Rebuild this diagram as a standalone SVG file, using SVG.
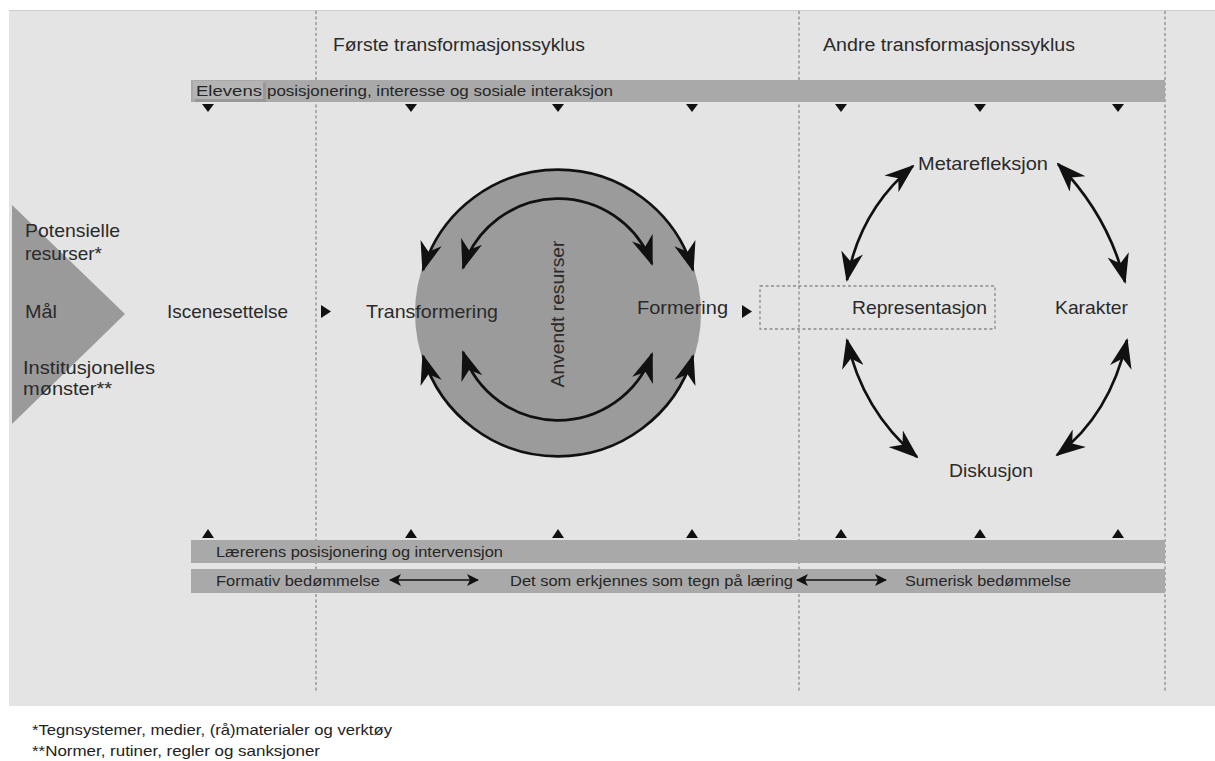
<svg xmlns="http://www.w3.org/2000/svg" width="1215" height="761" viewBox="0 0 1215 761">
  <defs>
    <style>
      text { font-family: "Liberation Sans", Arial, sans-serif; fill: #2a2a2a; }
      .lbl { font-size: 18.5px; }
      .hdr { font-size: 17.5px; }
      .bar { fill: #a9a9a9; }
      .barText { font-size: 14px; fill: #262626; }
      .divider { stroke: #8a8a8a; stroke-width: 1.3; stroke-dasharray: 3 2.5; fill: none; }
      .tick { fill: #111; }
      .cycle { fill: none; stroke: #111; stroke-width: 2.7; }
      .dbl { fill: none; stroke: #111; stroke-width: 1.6; }
      .foot { font-size: 14.5px; fill: #222; }
    </style>
    <marker id="head" viewBox="0 0 30 22" refX="28" refY="11" markerWidth="30" markerHeight="22" markerUnits="userSpaceOnUse" orient="auto-start-reverse">
      <path d="M0,0 L30,11 L0,22 L9,11 z" fill="#111"/>
    </marker>
    <marker id="smallHead" viewBox="0 0 12 12" refX="11" refY="6" markerWidth="12" markerHeight="12" markerUnits="userSpaceOnUse" orient="auto-start-reverse">
      <path d="M0,0 L12,6 L0,12 L3,6 z" fill="#111"/>
    </marker>
  </defs>

  <!-- canvas -->
  <rect x="0" y="0" width="1215" height="761" fill="#ffffff"/>
  <rect x="9" y="10" width="1206" height="696" fill="#e4e4e4"/>
  <line x1="9" y1="10.5" x2="1215" y2="10.5" stroke="#cdcdcd" stroke-width="1"/>

  <!-- phase dividers -->
  <g id="dividers">
    <line class="divider" x1="316" y1="11" x2="316" y2="693"/>
    <line class="divider" x1="799" y1="11" x2="799" y2="693"/>
    <line class="divider" x1="1165" y1="11" x2="1165" y2="693"/>
  </g>

  <!-- phase headings -->
  <g id="headings">
    <text class="hdr" x="333" y="51" textLength="252" lengthAdjust="spacingAndGlyphs">Første transformasjonssyklus</text>
    <text class="hdr" x="823" y="51" textLength="252" lengthAdjust="spacingAndGlyphs">Andre transformasjonssyklus</text>
  </g>

  <!-- student band -->
  <g id="student-band">
    <rect class="bar" x="191" y="80" width="974" height="22"/>
    <rect x="195" y="83" width="71" height="19" fill="#8e8e8e" opacity="0.6"/>
    <rect x="193" y="81" width="70" height="18" fill="#b4b4b4"/>
    <text class="barText" x="196" y="96" fill="#1b2330" textLength="66" lengthAdjust="spacingAndGlyphs">Elevens</text>
    <text class="barText" x="267" y="96" textLength="346" lengthAdjust="spacingAndGlyphs">posisjonering, interesse og sosiale interaksjon</text>
    <path class="tick" d="M202,104 h12 l-6,8 z M405,104 h12 l-6,8 z M552,104 h12 l-6,8 z M686,104 h12 l-6,8 z M835,104 h12 l-6,8 z M974,104 h12 l-6,8 z M1112,104 h12 l-6,8 z"/>
  </g>

  <!-- inputs -->
  <g id="inputs">
    <polygon points="12,205 125,314 12,424" fill="#9a9a9a"/>
    <text class="lbl" x="25" y="237" textLength="95" lengthAdjust="spacingAndGlyphs">Potensielle</text>
    <text class="lbl" x="25" y="260" textLength="77" lengthAdjust="spacingAndGlyphs">resurser*</text>
    <text class="lbl" x="25" y="318" textLength="32" lengthAdjust="spacingAndGlyphs">Mål</text>
    <text class="lbl" x="23" y="374" textLength="132" lengthAdjust="spacingAndGlyphs">Institusjonelles</text>
    <text class="lbl" x="23" y="395" textLength="89" lengthAdjust="spacingAndGlyphs">mønster**</text>
  </g>

  <g id="iscenesettelse">
    <text class="lbl" x="167" y="318" textLength="121" lengthAdjust="spacingAndGlyphs">Iscenesettelse</text>
  </g>

  <!-- first cycle -->
  <g id="anvendt-resurser">
    <circle cx="558" cy="313" r="143" fill="#9b9b9b"/>
    <text class="lbl" transform="translate(564,314) rotate(-90)" text-anchor="middle" textLength="147" lengthAdjust="spacingAndGlyphs">Anvendt resurser</text>
  </g>
  <g id="transformering">
    <text class="lbl" x="366" y="318" textLength="132" lengthAdjust="spacingAndGlyphs">Transformering</text>
  </g>
  <g id="formering">
    <text class="lbl" x="637" y="314" textLength="91" lengthAdjust="spacingAndGlyphs">Formering</text>
  </g>

  <!-- second cycle -->
  <g id="representasjon">
    <rect x="760" y="286" width="235" height="43" fill="none" stroke="#8a8a8a" stroke-width="1.3" stroke-dasharray="3 2.5"/>
    <text class="lbl" x="852" y="314" textLength="135" lengthAdjust="spacingAndGlyphs">Representasjon</text>
  </g>
  <g id="metarefleksjon">
    <text class="lbl" x="918" y="170" textLength="130" lengthAdjust="spacingAndGlyphs">Metarefleksjon</text>
  </g>
  <g id="karakter">
    <text class="lbl" x="1055" y="314" textLength="73" lengthAdjust="spacingAndGlyphs">Karakter</text>
  </g>
  <g id="diskusjon">
    <text class="lbl" x="949" y="477" textLength="84" lengthAdjust="spacingAndGlyphs">Diskusjon</text>
  </g>

  <!-- teacher bands -->
  <g id="teacher-band">
    <path class="tick" d="M202,538 h12 l-6,-9 z M405,538 h12 l-6,-9 z M552,538 h12 l-6,-9 z M686,538 h12 l-6,-9 z M835,538 h12 l-6,-9 z M974,538 h12 l-6,-9 z M1112,538 h12 l-6,-9 z"/>
    <rect class="bar" x="191" y="540" width="974" height="23"/>
    <text class="barText" x="216" y="557" textLength="287" lengthAdjust="spacingAndGlyphs">Lærerens posisjonering og intervensjon</text>
  </g>
  <g id="assessment-band">
    <rect class="bar" x="191" y="569" width="974" height="24"/>
    <text class="barText" x="216" y="586" textLength="164" lengthAdjust="spacingAndGlyphs">Formativ bedømmelse</text>
    <text class="barText" x="510" y="586" textLength="283" lengthAdjust="spacingAndGlyphs">Det som erkjennes som tegn på læring</text>
    <text class="barText" x="905" y="586" textLength="166" lengthAdjust="spacingAndGlyphs">Sumerisk bedømmelse</text>
  </g>

  <!-- connectors -->
  <g id="connectors">
    <!-- flow arrows -->
    <polygon points="321,305 331,311.5 321,318" fill="#111"/>
    <polygon points="742,305 752,311.5 742,318" fill="#111"/>

    <!-- first cycle loops: outer pair follows the circle rim -->
    <path class="cycle" marker-start="url(#head)" marker-end="url(#head)" d="M423,270 A141 141 0 0 1 693,270"/>
    <path class="cycle" marker-start="url(#head)" marker-end="url(#head)" d="M423,356 A141 141 0 0 0 693,356"/>
    <path class="cycle" marker-start="url(#head)" marker-end="url(#head)" d="M463,268 A100 100 0 0 1 652,264"/>
    <path class="cycle" marker-start="url(#head)" marker-end="url(#head)" d="M463,352 A100 100 0 0 0 652,354"/>

    <!-- second cycle links -->
    <path class="cycle" marker-start="url(#head)" marker-end="url(#head)" d="M913,166 Q860,210 847,280"/>
    <path class="cycle" marker-start="url(#head)" marker-end="url(#head)" d="M1058,164 Q1108,215 1125,282"/>
    <path class="cycle" marker-start="url(#head)" marker-end="url(#head)" d="M847,340 Q862,410 917,457"/>
    <path class="cycle" marker-start="url(#head)" marker-end="url(#head)" d="M1127,340 Q1110,415 1057,455"/>

    <!-- assessment links -->
    <path class="dbl" marker-start="url(#smallHead)" marker-end="url(#smallHead)" d="M390,580 H478"/>
    <path class="dbl" marker-start="url(#smallHead)" marker-end="url(#smallHead)" d="M797,580 H886"/>
  </g>

  <!-- footnotes -->
  <g id="footnotes">
    <text class="foot" x="32" y="735" textLength="360" lengthAdjust="spacingAndGlyphs">*Tegnsystemer, medier, (rå)materialer og verktøy</text>
    <text class="foot" x="32" y="756" textLength="288" lengthAdjust="spacingAndGlyphs">**Normer, rutiner, regler og sanksjoner</text>
  </g>
</svg>
